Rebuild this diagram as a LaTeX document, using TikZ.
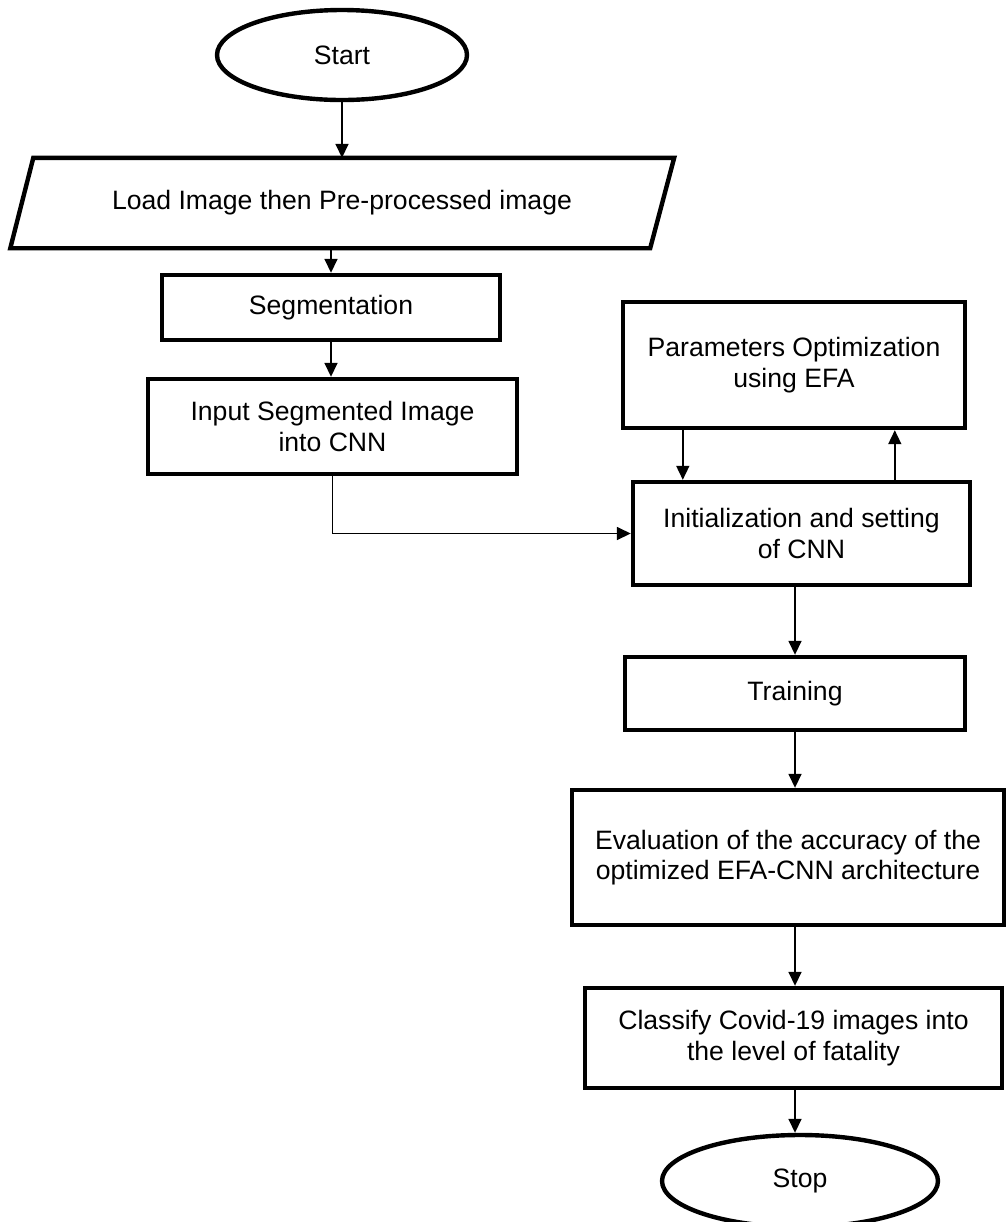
\documentclass[tikz,border=0pt]{standalone}
\usepackage{fontspec}
\setmainfont{Liberation Sans}
\usetikzlibrary{shapes.geometric, arrows.meta}

\tikzset{
    procbox/.style={draw, line width=2.2pt, align=center, inner sep=2pt},
    termnode/.style={draw, ellipse, line width=2.2pt, inner sep=0pt},
    iobody/.style={line width=2.2pt, align=center, inner sep=2pt},
    flow/.style={line width=0.8pt, -{Triangle[width=6.5pt,length=7pt]}},
    link/.style={line width=0.8pt}
}

\begin{document}
\begin{tikzpicture}[x=0.5pt, y=-0.5pt, font=\fontsize{13.3}{15.2}\selectfont]
                \useasboundingbox (0,0) rectangle (1006,1222);

                \node [termnode, minimum width=125pt, minimum height=45pt] (start) at (342,55) {Start};

                % input/output block, slanted sides drawn by hand
                \node [iobody, minimum width=318pt, minimum height=43pt] (load) at (342,203) {Load Image then Pre-processed image};
                \draw [line width=2.2pt, line join=miter]
                    ([xshift=5.75pt]load.north west) -- ([xshift=6pt]load.north east)
                    -- ([xshift=-6pt]load.south east) -- ([xshift=-5.75pt]load.south west) -- cycle;

                \node [procbox, minimum width=169pt, minimum height=32.5pt] (seg) at (331,307.5) {Segmentation};
                \node [procbox, minimum width=184.5pt, minimum height=47.5pt] (input) at (332.5,426.5) {Input Segmented Image\\into CNN};

                \node [procbox, minimum width=171pt, minimum height=63pt] (param) at (794,365) {Parameters Optimization\\using EFA};
                \node [procbox, minimum width=168.5pt, minimum height=51.5pt] (init) at (801.5,533.5) {Initialization and setting\\of CNN};
                \node [procbox, minimum width=170pt, minimum height=36.5pt] (train) at (795,693.5) {Training};
                \node [procbox, minimum width=216pt, minimum height=67.5pt] (eval) at (788,857.5) {Evaluation of the accuracy of the\\optimized EFA-CNN architecture};
                \node [procbox, minimum width=208.5pt, minimum height=50pt] (classify) at (793.5,1038) {Classify Covid-19 images into\\the level of fatality};
                \node [termnode, minimum width=138pt, minimum height=46pt] (stop) at (800,1181) {Stop};

                % connectors
                \draw [flow] (start) -- (load);
                \draw [flow] (seg.north |- load.south) -- (seg.north);
                \draw [flow] (seg.south) -- (seg.south |- input.north);
                \draw [flow] (input.south) |- (init.west);

                \coordinate (pdown) at ([xshift=31pt]param.south west);
                \coordinate (pup) at ([xshift=137pt]param.south west);
                \draw [flow] (pdown) -- (pdown |- init.north);
                \draw [flow] (pup |- init.north) -- (pup);

                \draw [flow] (train.north |- init.south) -- (train.north);
                \draw [flow] (train.south) -- (train.south |- eval.north);
                \draw [flow] (train.south |- eval.south) -- (train.south |- classify.north);
                \draw [flow] (train.south |- classify.south) -- (train.south |- stop.north);
            \end{tikzpicture}
\end{document}
